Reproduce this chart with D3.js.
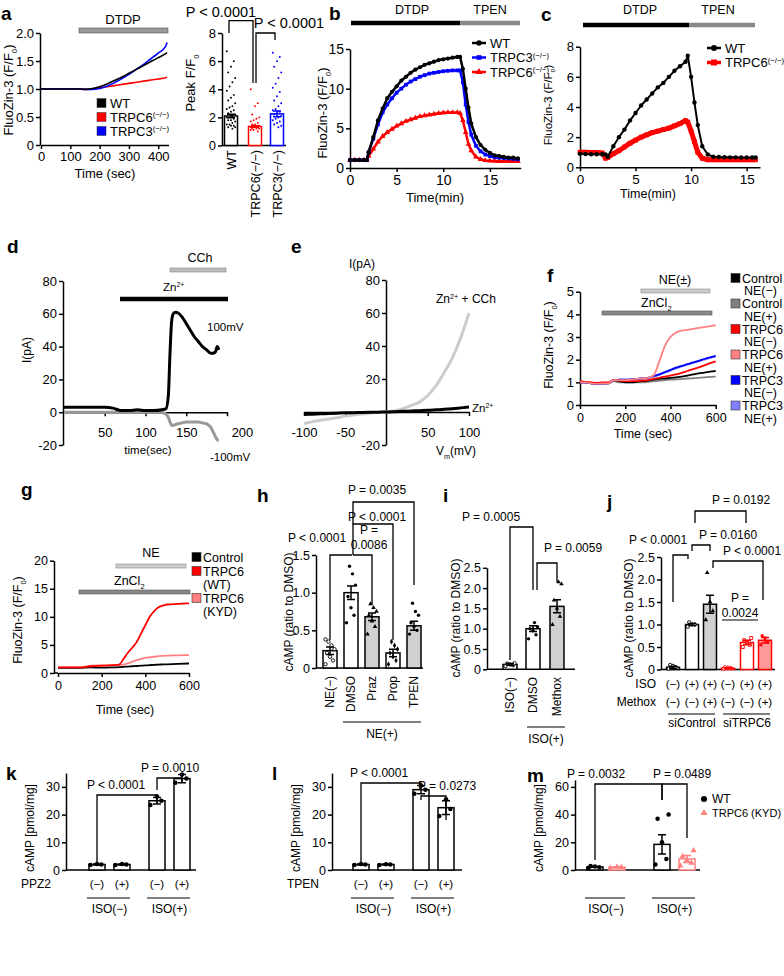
<!DOCTYPE html>
<html><head><meta charset="utf-8">
<script src="https://cdn.jsdelivr.net/npm/d3@7"></script>
<style>body{margin:0;background:#fff}</style>
</head><body>
<script>
// ================= DATA =================
// panel a (time course)
const aTime  = [0,25,50,75,100,125,150,175,200,225,250,275,300,325,350,375,400,425,430];
const aWT    = [1,1,1,1,1,1,1.0,1.01,1.04,1.09,1.15,1.21,1.28,1.35,1.42,1.49,1.56,1.63,1.65];
const aTRPC6 = [1,1,1,1,1,1,0.99,1.0,1.02,1.04,1.06,1.08,1.10,1.12,1.14,1.16,1.18,1.20,1.21];
const aTRPC3 = [1,1,1,1,1,1,0.99,0.99,1.01,1.05,1.11,1.18,1.26,1.35,1.44,1.54,1.64,1.76,1.83];
// panel a (peak bars)
const aBarCats  = ["WT","TRPC6(−/−)","TRPC3(−/−)"];
const aBarMeans = [2.1,1.35,2.25];
const aBarSEM   = [0.12,0.06,0.2];
const aPtsWT = [6.7,6.0,5.6,5.2,4.8,4.5,4.2,3.9,3.6,3.4,3.2,3.0,2.8,2.7,2.6,2.5,2.4,2.3,2.2,2.1,2.0,2.0,1.9,1.8,1.8,1.7,1.6,1.5,1.5,1.4,1.4,1.3,1.3,1.2];
const aPtsC6 = [4.0,3.0,2.8,2.2,2.0,1.9,1.8,1.7,1.6,1.5,1.5,1.4,1.4,1.4,1.3,1.3,1.3,1.2,1.2,1.2,1.1,1.1,1.0];
const aPtsC3 = [6.6,6.3,6.0,5.6,5.2,4.8,4.4,4.1,3.8,3.5,3.2,3.0,2.8,2.6,2.5,2.4,2.3,2.2,2.1,2.0,1.9,1.8,1.7,1.6,1.5,1.4,1.3];
// panel b
const bTime  = [0,0.5,1,1.5,1.8,2,2.5,3,3.5,4,4.5,5,5.5,6,6.5,7,7.5,8,8.5,9,9.5,10,10.5,11,11.5,11.8,12.1,12.4,12.7,13,13.5,14,14.5,15,15.5,16,16.5,17,17.5,18];
const bWT    = [1,1,1,1,1,2.0,3.9,6.0,7.5,8.8,9.6,10.3,11.0,11.5,12.0,12.4,12.7,13.0,13.2,13.4,13.6,13.7,13.8,13.9,14.0,14.0,12.5,10.0,7.6,5.6,3.9,2.9,2.3,1.9,1.6,1.5,1.4,1.3,1.3,1.2];
const bTRPC3 = [1,1,1,1,1,2.0,3.7,5.5,7.0,8.0,8.8,9.5,10.0,10.5,10.9,11.2,11.5,11.7,11.9,12.0,12.1,12.2,12.25,12.3,12.3,12.3,10.8,8.0,5.8,4.2,2.8,2.1,1.7,1.5,1.35,1.3,1.25,1.2,1.15,1.1];
const bTRPC6 = [1,1,1,1,1,1.5,2.4,3.3,4.0,4.5,4.9,5.3,5.6,5.9,6.1,6.3,6.5,6.6,6.7,6.8,6.9,6.95,7.0,7.0,7.0,6.9,6.0,4.5,3.0,2.2,1.4,1.1,0.95,0.9,0.88,0.85,0.85,0.85,0.85,0.85];
// panel c
const cTime  = [0,0.5,1,1.5,2,2.3,2.5,3,3.5,4,4.5,5,5.5,6,6.5,7,7.5,8,8.5,9,9.5,9.7,10,10.3,10.6,11,11.5,12,12.5,13,13.5,14,14.5,15,15.5,15.8];
const cWT    = [0.9,0.88,0.87,0.87,0.87,0.85,0.7,1.4,2.0,2.5,3.1,3.6,4.1,4.5,4.9,5.3,5.6,6.0,6.4,6.7,7.0,7.4,6.0,4.3,2.8,1.4,0.85,0.7,0.68,0.67,0.66,0.66,0.65,0.65,0.65,0.65];
const cTRPC6 = [1.0,1.0,0.98,0.98,0.95,0.6,0.65,0.9,1.1,1.35,1.6,1.8,2.0,2.15,2.3,2.4,2.5,2.6,2.75,2.9,3.1,3.0,2.4,1.7,1.0,0.6,0.5,0.5,0.5,0.5,0.5,0.5,0.5,0.5,0.5,0.5];
// panel d
const dTime  = [0,10,20,30,40,50,60,70,80,90,100,110,120,125,128,130,132,134,137,140,145,150,155,160,165,170,175,180,183,186,188,190];
const dPos   = [3,3,3,3,3,3,2.5,1,1,1.5,1,1,1.5,2,10,35,55,60,61,60.5,58,54,50,46,43,40,38,36,36,37,40,38];
const dNeg   = [0,0,0,0,0,0,0,0,0,0,0,0,0,-1,-3,-6,-8,-8,-7.5,-7,-6.5,-6,-6,-6,-6,-6.5,-7,-9,-12,-15,-17,-17];
// panel e
const eV     = [-100,-90,-80,-70,-60,-50,-40,-30,-20,-10,0,10,20,30,40,50,60,70,80,90,100];
const eCCh   = [-7,-6,-5,-4.2,-3.5,-2.5,-1.8,-1.2,-0.7,-0.3,0,0.8,2,4,6,10,16,24,33,45,60];
const eZn    = [-1.5,-1.3,-1.1,-0.9,-0.7,-0.5,-0.4,-0.3,-0.2,-0.1,0,0.2,0.4,0.6,0.8,1.0,1.3,1.6,2.0,2.5,3];
// panel f
const fTime  = [0,25,50,75,100,125,150,175,200,225,250,275,300,325,350,375,400,425,450,475,500,525,550,575,600];
const fCtrlM = [1.0,1.0,0.95,0.93,0.95,0.95,1.1,1.05,1.0,1.0,1.02,1.05,1.08,1.12,1.15,1.17,1.2,1.22,1.25,1.3,1.35,1.4,1.43,1.47,1.5];
const fCtrlP = [1.0,1.0,0.95,0.93,0.95,0.95,1.05,1.0,1.0,1.0,1.0,1.0,1.02,1.05,1.07,1.1,1.12,1.13,1.15,1.17,1.18,1.2,1.22,1.24,1.25];
const fC6M   = [1.05,1.02,1.0,0.98,1.0,1.0,1.1,1.08,1.05,1.05,1.05,1.08,1.1,1.15,1.2,1.25,1.3,1.35,1.42,1.5,1.58,1.66,1.75,1.85,1.93];
const fC6P   = [1.0,1.0,0.95,0.93,0.95,0.95,1.1,1.1,1.1,1.12,1.15,1.18,1.2,1.3,1.9,2.6,3.0,3.2,3.28,3.32,3.36,3.4,3.44,3.48,3.52];
const fC3M   = [1.0,1.0,0.95,0.93,0.95,0.95,1.1,1.12,1.12,1.13,1.15,1.18,1.2,1.27,1.35,1.45,1.55,1.65,1.73,1.8,1.88,1.95,2.03,2.1,2.17];
const fC3P   = [1.0,1.0,0.95,0.93,0.95,0.95,1.1,1.12,1.12,1.13,1.15,1.17,1.19,1.25,1.33,1.43,1.52,1.62,1.7,1.78,1.85,1.93,2.0,2.08,2.15];
const fLegend = [["Control","NE(−)"],["Control","NE(+)"],["TRPC6","NE(−)"],["TRPC6","NE(+)"],["TRPC3","NE(−)"],["TRPC3","NE(+)"]];
// panel g
const gTime  = [0,50,100,150,200,250,280,300,320,340,360,380,400,420,440,460,480,500,550,600];
const gCtrl  = [0.9,0.9,0.9,1.0,0.95,1.0,1.05,1.1,1.15,1.2,1.25,1.3,1.35,1.4,1.45,1.5,1.52,1.55,1.62,1.7];
const gWT    = [1.0,1.0,1.0,1.2,1.3,1.4,1.5,2.5,3.6,4.5,5.5,7.0,8.5,10.0,11.0,11.7,12.0,12.2,12.3,12.4];
const gKYD   = [1.0,1.0,1.0,1.3,1.35,1.4,1.45,1.5,1.7,2.0,2.3,2.5,2.7,2.8,2.9,3.0,3.05,3.1,3.15,3.2];
// panel h
const hCats  = ["NE(−)","DMSO","Praz","Prop","TPEN"];
const hMeans = [0.23,1.0,0.68,0.2,0.56];
const hSEM   = [0.05,0.09,0.05,0.05,0.06];
const hPts   = [[0.05,0.1,0.15,0.2,0.25,0.3,0.35,0.38],[0.6,0.7,0.8,0.95,1.1,1.25,1.35],[0.45,0.55,0.62,0.7,0.75,0.8,0.85],[0.05,0.1,0.15,0.2,0.25,0.3,0.35],[0.45,0.5,0.55,0.6,0.7,0.75,0.86]];
// panel i
const iCats  = ["ISO(−)","DMSO","Methox"];
const iMeans = [0.12,1.0,1.55];
const iSEM   = [0.02,0.07,0.16];
const iPts   = [[0.08,0.1,0.12,0.14,0.15],[0.75,0.85,0.95,1.0,1.05,1.15],[1.1,1.3,1.5,1.7,2.1,2.15]];
// panel j
const jISO   = ["(−)","(+)","(+)","(−)","(+)","(+)"];
const jMeth  = ["(−)","(−)","(+)","(−)","(−)","(+)"];
const jMeans = [0.05,1.0,1.45,0.03,0.6,0.65];
const jSEM   = [0.02,0.02,0.2,0.01,0.05,0.06];
const jPts   = [[0.02,0.05,0.08,0.1],[0.95,1.0,1.0,1.05],[1.1,1.3,1.5,2.15],[0.02,0.03,0.04,0.05],[0.5,0.55,0.6,0.65,0.7],[0.55,0.6,0.7,0.75]];
// panel k, l, m
const kMeans = [2,2,25,33];   const kSEM = [0.2,0.2,1.2,1.5];
const kPts   = [[1.8,2,2.2],[1.8,2,2.2],[23.5,25,26.5],[31.5,33,34.5]];
const lMeans = [2,2,29,22.5]; const lSEM = [0.2,0.2,1.5,2.5];
const lPts   = [[1.8,2,2.2],[1.8,2,2.1],[27.5,29,30.5],[19.5,22,25.5]];
const mMeans = [2.2,2,18.5,8];  const mSEM = [0.3,0.3,7,2.5];
const mPts   = [[1.5,2,2.5,2.8],[1.5,2,2.4],[4,8,20,37,40],[3,5,7,10,14]];
const signTicks = ["(−)","(+)","(−)","(+)"];

// ================= HELPERS =================
const FONT = "'Liberation Sans', Arial, Helvetica, sans-serif";
const svg = d3.select("body").append("svg").attr("width",784).attr("height",976)
  .style("font-family",FONT);

function T(x,y,s,o={}){
  const t = svg.append("text").attr("x",x).attr("y",y)
    .attr("font-size",o.fs||12).attr("text-anchor",o.anchor||"start")
    .attr("fill",o.fill||"#000").attr("font-weight",o.weight||"normal");
  if(o.rot) t.attr("transform",`rotate(${o.rot},${x},${y})`);
  t.text(s); return t;
}
function R(x,y,parts,o={}){
  const fs=o.fs||12; const t=T(x,y,"",o); let cur=0;
  parts.forEach(p=>{
    const [s,k]=Array.isArray(p)?p:[p,null];
    const target = k==="sup"?-fs*0.33:(k==="sub"?fs*0.3:0);
    t.append("tspan").attr("dy",target-cur).attr("font-size",k?fs*0.6:fs).text(s);
    cur=target;
  });
  return t;
}
function styleAxis(g,fs){
  g.selectAll(".domain").attr("stroke","#000").attr("stroke-width",1.5);
  g.selectAll(".tick line").attr("stroke","#000").attr("stroke-width",1.5);
  g.selectAll(".tick text").attr("font-size",fs).attr("fill","#000").attr("font-family",FONT);
}
function axL(x,scale,ticks,fmt,fs=12,pad=2){
  const g=svg.append("g").attr("transform",`translate(${x},0)`)
    .call(d3.axisLeft(scale).tickValues(ticks).tickFormat(fmt||(d=>d)).tickSize(4).tickSizeOuter(0).tickPadding(pad));
  styleAxis(g,fs); return g;
}
function axB(y,scale,ticks,fmt,fs=12,pad=3){
  const g=svg.append("g").attr("transform",`translate(0,${y})`)
    .call(d3.axisBottom(scale).tickValues(ticks).tickFormat(fmt||(d=>d)).tickSize(4).tickSizeOuter(0).tickPadding(pad));
  styleAxis(g,fs); return g;
}
function hline(x1,x2,y,color,w){
  svg.append("line").attr("x1",x1).attr("x2",x2).attr("y1",y).attr("y2",y)
    .attr("stroke",color).attr("stroke-width",w);
}
function bar(x1,x2,y,color,h=5,stroke="#555"){
  svg.append("rect").attr("x",x1).attr("y",y-h/2).attr("width",x2-x1).attr("height",h)
    .attr("fill",color).attr("stroke",stroke).attr("stroke-width",0.6);
}
function bracket(x1,x2,yTop,yL,yR,w=1.3){
  svg.append("path").attr("d",`M${x1},${yL}V${yTop}H${x2}V${yR}`)
    .attr("fill","none").attr("stroke","#000").attr("stroke-width",w);
}
function series(xs,ys,x,y,color,w,curve){
  const data=xs.map((t,i)=>[t,ys[i]]);
  svg.append("path").datum(data).attr("fill","none").attr("stroke",color).attr("stroke-width",w)
    .attr("stroke-linejoin","round")
    .attr("d",d3.line().x(d=>x(d[0])).y(d=>y(d[1])).curve(curve||d3.curveMonotoneX));
  return data;
}
function label(ch,x,y){ T(x,y,ch,{fs:19,weight:"bold"}); }
const sym = (type,size)=>d3.symbol().type(type).size(size)();

// bar + SEM + points
function barSet(cx,means,sems,pts,y,opts){
  const w=opts.w||14;
  means.forEach((m,i)=>{
    const stroke=opts.stroke[i], fill=opts.fill[i];
    svg.append("rect").attr("x",cx[i]-w/2).attr("y",y(m)).attr("width",w).attr("height",y(0)-y(m))
      .attr("fill",fill).attr("stroke",stroke).attr("stroke-width",opts.bw||1.5);
    const p=pts[i];
    p.forEach((v,k)=>{
      const off=((k*5)%7-3)*(opts.spread||1.6);
      const s=svg.append("path").attr("d",sym(opts.sym[i],opts.ss||10))
        .attr("transform",`translate(${cx[i]+off},${y(v)})`);
      if(opts.open&&opts.open[i]) s.attr("fill","#fff").attr("stroke",opts.pc[i]).attr("stroke-width",0.9);
      else s.attr("fill",opts.pc[i]);
    });
    const ec=opts.ec?opts.ec[i]:stroke;
    svg.append("path").attr("d",`M${cx[i]},${y(m-sems[i])}V${y(m+sems[i])}M${cx[i]-4},${y(m-sems[i])}H${cx[i]+4}M${cx[i]-4},${y(m+sems[i])}H${cx[i]+4}`)
      .attr("stroke",ec).attr("stroke-width",1.5).attr("fill","none");
  });
}

// ================= PANEL a (time course) =================
label("a",1,20);
{
  const x=d3.scaleLinear().domain([0,435]).range([41,168.5]);
  const y=d3.scaleLinear().domain([0,2]).range([145,33]);
  axL(40,y,[0,0.5,1.0,1.5,2.0],d=>d===0?"0":d3.format(".1f")(d),13);
  axB(145,x,[0,100,200,300,400],null,13);
  bar(79,168,30.5,"#999",5);
  T(123,24,"DTDP",{fs:13,anchor:"middle"});
  series(aTime,aTRPC6,x,y,"#ff0000",1.6);
  series(aTime,aTRPC3,x,y,"#0000ff",1.6);
  series(aTime,aWT,x,y,"#000",1.6);
  const lc=["#000","#ff0000","#0000ff"];
  const lt=[["WT"],["TRPC6",["(−/−)","sup"]],["TRPC3",["(−/−)","sup"]]];
  [103,117,131].forEach((yy,i)=>{
    svg.append("rect").attr("x",97).attr("y",yy-4.5).attr("width",9).attr("height",9).attr("fill",lc[i]).attr("stroke","#333").attr("stroke-width",0.5);
    R(110,yy+4.5,lt[i],{fs:13});
  });
  R(13,90,["FluoZin-3 (F/F",["0","sub"],")"],{fs:13,anchor:"middle",rot:-90});
  T(105,178,"Time (sec)",{fs:13,anchor:"middle"});
}
// ================= PANEL a (peak bars) =================
{
  const y=d3.scaleLinear().domain([0,8]).range([145.5,33]);
  const cx=[231,255,277];
  axL(222,y,[0,2,4,6,8],null,13);
  hline(222,286,145.5,"#000",1.5);
  barSet(cx,aBarMeans,aBarSEM,[aPtsWT,aPtsC6,aPtsC3],y,
    {w:13,stroke:["#000","#ff0000","#0000ff"],fill:["#fff","#fff","#fff"],pc:["#000","#ff0000","#0000ff"],
     sym:[d3.symbolCircle,d3.symbolCircle,d3.symbolCircle],ss:3,spread:1.4});
  aBarCats.forEach((c,i)=>T(cx[i]+4.5,150,c,{fs:12.5,anchor:"end",rot:-90}));
  R(195,83,["Peak F/F",["0","sub"]],{fs:13,anchor:"middle",rot:-90});
  bracket(229,253,20.7,33,83); T(221,17,"P < 0.0001",{fs:14.5,anchor:"middle"});
  bracket(256,275,33,83,40); T(289,28,"P < 0.0001",{fs:14.5,anchor:"middle"});
}
// ================= PANEL b =================
label("b",329,20);
{
  const x=d3.scaleLinear().domain([0,18.3]).range([350,520.7]);
  const y=d3.scaleLinear().domain([0,15]).range([168,49]);
  axL(350,y,[0,5,10,15],null,14);
  axB(168,x,[0,5,10,15],null,14);
  hline(351,460,23,"#000",4.5); hline(460,520,23,"#888",4.5);
  T(412,14,"DTDP",{fs:12.5,anchor:"middle"}); T(490,14,"TPEN",{fs:12.5,anchor:"middle"});
  const defs=[[bTRPC6,"#ff0000",d3.symbolTriangle],[bTRPC3,"#0000ff",d3.symbolSquare],[bWT,"#000",d3.symbolCircle]];
  defs.forEach(([ys,c,s])=>{
    const data=series(bTime,ys,x,y,c,2.5,d3.curveLinear);
    svg.append("g").selectAll("path").data(data).join("path").attr("d",sym(s,14))
      .attr("transform",d=>`translate(${x(d[0])},${y(d[1])})`).attr("fill",c);
  });
  const lg=[["WT","#000",d3.symbolCircle],["TRPC3","#0000ff",d3.symbolSquare],["TRPC6","#ff0000",d3.symbolTriangle]];
  lg.forEach(([n,c,s],i)=>{
    const yy=43+i*14.5;
    hline(472,486,yy,c,2.5);
    svg.append("path").attr("d",sym(s,22)).attr("transform",`translate(479,${yy})`).attr("fill",c);
    R(490,yy+4.5,i===0?[n]:[n,["(−/−)","sup"]],{fs:13});
  });
  R(327,113,["FluoZin-3 (F/F",["0","sub"],")"],{fs:13,anchor:"middle",rot:-90});
  T(435,202,"Time(min)",{fs:13,anchor:"middle"});
}
// ================= PANEL c =================
label("c",541,21);
{
  const x=d3.scaleLinear().domain([0,16.2]).range([580,760]);
  const y=d3.scaleLinear().domain([0,8]).range([167.3,46.7]);
  axL(580,y,[0,2,4,6,8],null,13);
  axB(167.3,x,[0,5,10,15],null,13.5);
  hline(583,689,25,"#000",4.5); hline(689,755,25,"#888",4.5);
  T(640,14,"DTDP",{fs:12.5,anchor:"middle"}); T(718,14,"TPEN",{fs:12.5,anchor:"middle"});
  const r=series(cTime,cTRPC6,x,y,"#ff0000",5,d3.curveLinear);
  svg.append("g").selectAll("path").data(r).join("path").attr("d",sym(d3.symbolSquare,22))
    .attr("transform",d=>`translate(${x(d[0])},${y(d[1])})`).attr("fill","#ff0000");
  const k=series(cTime,cWT,x,y,"#000",2,d3.curveLinear);
  svg.append("g").selectAll("circle").data(k).join("circle").attr("cx",d=>x(d[0])).attr("cy",d=>y(d[1])).attr("r",2.2).attr("fill","#000");
  hline(707,721,48,"#000",2.5); svg.append("circle").attr("cx",714).attr("cy",48).attr("r",3).attr("fill","#000");
  T(725,52.5,"WT",{fs:13});
  hline(707,721,62.5,"#ff0000",3.5); svg.append("rect").attr("x",711).attr("y",59.5).attr("width",6).attr("height",6).attr("fill","#ff0000");
  R(725,67,["TRPC6",["(−/−)","sup"]],{fs:13});
  R(552,105,["FluoZin-3 (F/F",["o","sub"],")"],{fs:11.5,anchor:"middle",rot:-90});
  T(648,198,"Time(min)",{fs:12.5,anchor:"middle"});
}
// ================= PANEL d =================
label("d",7,253);
{
  const x=d3.scaleLinear().domain([0,200]).range([64,227]);
  const y=d3.scaleLinear().domain([-20,80]).range([445,281]);
  axL(63,y,[-20,0,20,40,60,80],null,13);
  const g=axB(y(0),x,[50,100,150,200],null,13,12);
  g.selectAll(".tick text").filter(d=>d===200).attr("x",15);
  hline(63,64,y(0),"#000",1.5);
  hline(120,228,299,"#000",4.5);
  bar(170,226,270,"#bbb",4,"#888");
  T(200,262,"CCh",{fs:12.5,anchor:"middle"});
  R(163,291,["Zn",["2+","sup"]],{fs:11.5});
  series(dTime,dNeg,x,y,"#999",3,d3.curveLinear);
  series(dTime,dPos,x,y,"#000",3,d3.curveMonotoneX);
  T(207,331,"100mV",{fs:11.5});
  T(210,461,"-100mV",{fs:11.5});
  T(31,350,"I(pA)",{fs:12,anchor:"middle",rot:-90});
  T(148,454,"time(sec)",{fs:11.5,anchor:"middle"});
}
// ================= PANEL e =================
label("e",291,253);
{
  const x=d3.scaleLinear().domain([-100,100]).range([304,469]);
  const y=d3.scaleLinear().domain([-20,80]).range([445,280]);
  axL(386,y,[-20,20,40,60,80],null,13);
  axB(y(0),x,[-100,-50,50,100],null,13,12);
  series(eV,eCCh,x,y,"#ccc",3);
  series(eV,eZn,x,y,"#000",3);
  R(436,303,["Zn",["2+","sup"]," + CCh"],{fs:12});
  R(472,412,["Zn",["2+","sup"]],{fs:11.5});
  T(362,268,"I(pA)",{fs:12,anchor:"middle"});
  R(456,455,["V",["m","sub"],"(mV)"],{fs:12,anchor:"middle"});
}
// ================= PANEL f =================
label("f",547,282);
{
  const x=d3.scaleLinear().domain([0,600]).range([580,715.7]);
  const y=d3.scaleLinear().domain([0,5]).range([405,291.7]);
  axL(580,y,[0,1,2,3,4,5],null,13);
  axB(405,x,[0,200,400,600],null,12.5,4);
  bar(641,710,291,"#ccc",4,"#888");
  bar(602,712,313,"#888",4,"#555");
  R(675,284,["NE(±)"],{fs:12.5,anchor:"middle"});
  R(641,307,["ZnCl",["2","sub"]],{fs:12.5});
  const cols=["#000","#808080","#ff0000","#ff8080","#0000ff","#8080ff"];
  const ser=[fCtrlP,fCtrlM,fC3P,fC3M,fC6M,fC6P];
  const sc=["#808080","#000","#8080ff","#0000ff","#ff0000","#ff8080"];
  ser.forEach((s,i)=>series(fTime,s,x,y,sc[i],1.8));
  fLegend.forEach((l,i)=>{
    const yy=278+i*25.5;
    svg.append("rect").attr("x",731).attr("y",yy-4.5).attr("width",9).attr("height",9).attr("fill",cols[i]).attr("stroke","#333").attr("stroke-width",0.6);
    T(742,yy+4.5,l[0],{fs:12.5});
    T(744,yy+17,l[1],{fs:12.5});
  });
  R(553,345,["FluoZin-3 (F/F",["0","sub"],")"],{fs:12.5,anchor:"middle",rot:-90});
  T(643,438,"Time (sec)",{fs:12.5,anchor:"middle"});
}
// ================= PANEL g =================
label("g",21,496);
{
  const x=d3.scaleLinear().domain([0,600]).range([58,189]);
  const y=d3.scaleLinear().domain([0,20]).range([673,560.7]);
  axL(54,y,[0,5,10,15,20],null,12.5);
  axB(673,x,[0,200,400,600],null,12.5,4);
  hline(54,58,673,"#000",1.5);
  bar(116,186,566,"#ccc",4,"#888");
  bar(79,190,592,"#888",4,"#555");
  T(151,557,"NE",{fs:12.5,anchor:"middle"});
  R(114,585,["ZnCl",["2","sub"]],{fs:12.5});
  series(gTime,gKYD,x,y,"#ff8080",1.8);
  series(gTime,gCtrl,x,y,"#000",1.8);
  series(gTime,gWT,x,y,"#ff0000",1.8);
  const lg=[["#000",["Control"]],["#ff0000",["TRPC6","(WT)"]],["#ff8080",["TRPC6","(KYD)"]]];
  [557,571,598].forEach((yy,i)=>{
    svg.append("rect").attr("x",192).attr("y",yy-4.5).attr("width",9).attr("height",9).attr("fill",lg[i][0]).attr("stroke","#333").attr("stroke-width",0.6);
    T(203,yy+4.5,lg[i][1][0],{fs:12.5});
    if(lg[i][1][1]) T(203,yy+17.5,lg[i][1][1],{fs:12.5});
  });
  R(22,620,["FluoZin-3 (F/F",["0","sub"],")"],{fs:12.5,anchor:"middle",rot:-90});
  T(125,714,"Time (sec)",{fs:12.5,anchor:"middle"});
}
// ================= PANEL h =================
label("h",257,502);
{
  const y=d3.scaleLinear().domain([0,1.5]).range([668,555]);
  const cx=[330,351,372,393,414];
  axL(316,y,[0,0.5,1.0,1.5],d=>d===0?"0":d3.format(".1f")(d),12.5);
  hline(316,423,668,"#000",1.5);
  barSet(cx,hMeans,hSEM,hPts,y,{w:14,stroke:["#000","#000","#000","#000","#000"],fill:["#fff","#fff","#d0d0d0","#fff","#d0d0d0"],
    pc:["#000","#000","#000","#000","#000"],open:[true,false,false,false,false],
    sym:[d3.symbolCircle,d3.symbolCircle,d3.symbolTriangle,d3.symbolDiamond,d3.symbolCircle],ss:9,spread:1.5});
  hCats.forEach((c,i)=>T(cx[i]+4,676,c,{fs:12,anchor:"end",rot:-90}));
  hline(343,421,722,"#000",1.2);
  T(382,738,"NE(+)",{fs:12,anchor:"middle"});
  T(293,612,"cAMP (ratio to DMSO)",{fs:12,anchor:"middle",rot:-90});
  bracket(330,352,555,640,555); T(317,542,"P < 0.0001",{fs:12,anchor:"middle"});
  bracket(353,372,555,555,605); T(369,534,"P =",{fs:12,anchor:"middle"}); T(369,549,"0.0086",{fs:12,anchor:"middle"});
  bracket(353,393,524,555,640); T(377,521,"P < 0.0001",{fs:12,anchor:"middle"});
  bracket(353,414,502,524,585); T(377,494,"P = 0.0035",{fs:12,anchor:"middle"});
}
// ================= PANEL i =================
label("i",443,502);
{
  const y=d3.scaleLinear().domain([0,2.5]).range([669.3,567.8]);
  const cx=[510,533,557];
  axL(487,y,[0,0.5,1.0,1.5,2.0,2.5],d=>d===0?"0":d3.format(".1f")(d),12.5);
  hline(487,575,669.3,"#000",1.5);
  barSet(cx,iMeans,iSEM,iPts,y,{w:14,stroke:["#000","#000","#000"],fill:["#fff","#fff","#d0d0d0"],pc:["#000","#000","#000"],
    open:[true,false,false],sym:[d3.symbolCircle,d3.symbolCircle,d3.symbolTriangle],ss:9,spread:1.5});
  iCats.forEach((c,i)=>T(cx[i]+4,677,c,{fs:12,anchor:"end",rot:-90}));
  hline(527,565,727,"#000",1.2);
  T(546,743,"ISO(+)",{fs:12,anchor:"middle"});
  T(460,618,"cAMP (ratio to DMSO)",{fs:12,anchor:"middle",rot:-90});
  bracket(510,533,527,660,590); T(491,521,"P = 0.0005",{fs:12,anchor:"middle"});
  bracket(537,557,563,590,582); T(573,552,"P = 0.0059",{fs:12,anchor:"middle"});
}
// ================= PANEL j =================
label("j",607,508);
{
  const y=d3.scaleLinear().domain([0,2.5]).range([669.5,557]);
  const cx=[673,692,710,728,747,765];
  axL(661,y,[0,0.5,1.0,1.5,2.0,2.5],d=>d===0?"0":d3.format(".1f")(d),12.5);
  hline(661,775,669.5,"#000",1.5);
  barSet(cx,jMeans,jSEM,jPts,y,{w:13,stroke:["#000","#000","#000","#ff0000","#ff0000","#ff0000"],
    fill:["#fff","#fff","#d0d0d0","#fff","#fff","#ff9a9a"],pc:["#000","#000","#000","#ff0000","#ff0000","#ff0000"],
    open:[true,true,false,true,true,false],ec:["#000","#000","#000","#ff0000","#ff0000","#ff0000"],
    sym:[d3.symbolCircle,d3.symbolCircle,d3.symbolTriangle,d3.symbolCircle,d3.symbolSquare,d3.symbolSquare],ss:9,spread:1.4});
  T(656,688,"ISO",{fs:12,anchor:"end"}); T(656,706,"Methox",{fs:12,anchor:"end"});
  jISO.forEach((s,i)=>T(cx[i],688,s,{fs:11.5,anchor:"middle"}));
  jMeth.forEach((s,i)=>T(cx[i],706,s,{fs:11.5,anchor:"middle"}));
  hline(668,715,714,"#000",1.2); hline(723,770,714,"#000",1.2);
  T(692,727,"siControl",{fs:12,anchor:"middle"}); T(747,727,"siTRPC6",{fs:12,anchor:"middle"});
  T(633,618,"cAMP (ratio to DMSO)",{fs:12,anchor:"middle",rot:-90});
  bracket(673,688,555,602,559); T(658,544,"P < 0.0001",{fs:12,anchor:"middle"});
  bracket(692,710,545,551,551); T(728,539,"P = 0.0160",{fs:12,anchor:"middle"});
  bracket(695,746,511,523,523); T(741,504,"P = 0.0192",{fs:12,anchor:"middle"});
  bracket(713,763,561,568,600); T(752,555,"P < 0.0001",{fs:12,anchor:"middle"});
  T(740,602,"P =",{fs:12,anchor:"middle"}); T(740,617,"0.0024",{fs:12,anchor:"middle"});
  hline(722,758,620,"#000",1.2);
}
// ================= PANELS k, l, m =================
function cAMPpanel(o){
  const y=d3.scaleLinear().domain([0,o.max]).range([870,870-o.max*o.ppu]);
  axL(o.ax,y,o.ticks,null,12.5);
  hline(o.ax,o.ax+o.len,870,"#000",1.5);
  barSet(o.cx,o.means,o.sem,o.pts,y,{w:16,stroke:o.stroke,fill:["#fff","#fff","#fff","#fff"],pc:o.pc,
    sym:o.sym,ss:16,spread:2.2,ec:o.stroke});
  if(o.sign){ o.cx.forEach((c,i)=>T(c,888,signTicks[i],{fs:11.5,anchor:"middle"})); T(o.signX,888,o.sign,{fs:12}); }
  hline(o.cx[0]-10,o.cx[1]+8,898,"#000",1.2); hline(o.cx[2]-10,o.cx[3]+8,898,"#000",1.2);
  T((o.cx[0]+o.cx[1])/2,913,"ISO(−)",{fs:12,anchor:"middle"});
  T((o.cx[2]+o.cx[3])/2,913,"ISO(+)",{fs:12,anchor:"middle"});
  T(o.ax-32,828,"cAMP [pmol/mg]",{fs:12,anchor:"middle",rot:-90});
  return y;
}
label("k",6,780);
{
  cAMPpanel({ax:66,len:130,max:35,ppu:2.77,ticks:[0,10,20,30],cx:[97,122,157,182],means:kMeans,sem:kSEM,pts:kPts,
    stroke:["#000","#000","#000","#000"],pc:["#000","#000","#000","#000"],sym:Array(4).fill(d3.symbolCircle),sign:"PPZ2",signX:21});
  bracket(97,157,795,862,803); T(116,789,"P < 0.0001",{fs:12,anchor:"middle"});
  bracket(157,182,778,790,783); T(170,772,"P = 0.0010",{fs:12,anchor:"middle"});
}
label("l",272,780);
{
  cAMPpanel({ax:332,len:130,max:35,ppu:2.77,ticks:[0,10,20,30],cx:[361,386,421,446],means:lMeans,sem:lSEM,pts:lPts,
    stroke:["#000","#000","#000","#000"],pc:["#000","#000","#000","#000"],sym:Array(4).fill(d3.symbolCircle),sign:"TPEN",signX:287});
  bracket(361,421,783,862,789); T(379,777,"P < 0.0001",{fs:12,anchor:"middle"});
  bracket(421,446,796,800,820); T(447,790,"P = 0.0273",{fs:12,anchor:"middle"});
}
label("m",527,782);
{
  cAMPpanel({ax:575,len:125,max:65,ppu:1.385,ticks:[0,20,40,60],cx:[595,617,662,687],means:mMeans,sem:mSEM,pts:mPts,
    stroke:["#000","#ff8080","#000","#ff8080"],pc:["#000","#ff8080","#000","#ff8080"],sym:[d3.symbolCircle,d3.symbolTriangle,d3.symbolCircle,d3.symbolTriangle]});
  bracket(595,662,784,860,800); T(596,778,"P = 0.0032",{fs:12,anchor:"middle"});
  bracket(662,687,784,800,838); T(682,778,"P = 0.0489",{fs:12,anchor:"middle"});
  svg.append("circle").attr("cx",704).attr("cy",799).attr("r",3).attr("fill","#000");
  T(712,803,"WT",{fs:12});
  svg.append("path").attr("d",sym(d3.symbolTriangle,22)).attr("transform","translate(704,813)").attr("fill","#ff8080");
  T(712,817,"TRPC6 (KYD)",{fs:11});
}
</script>
</body></html>
